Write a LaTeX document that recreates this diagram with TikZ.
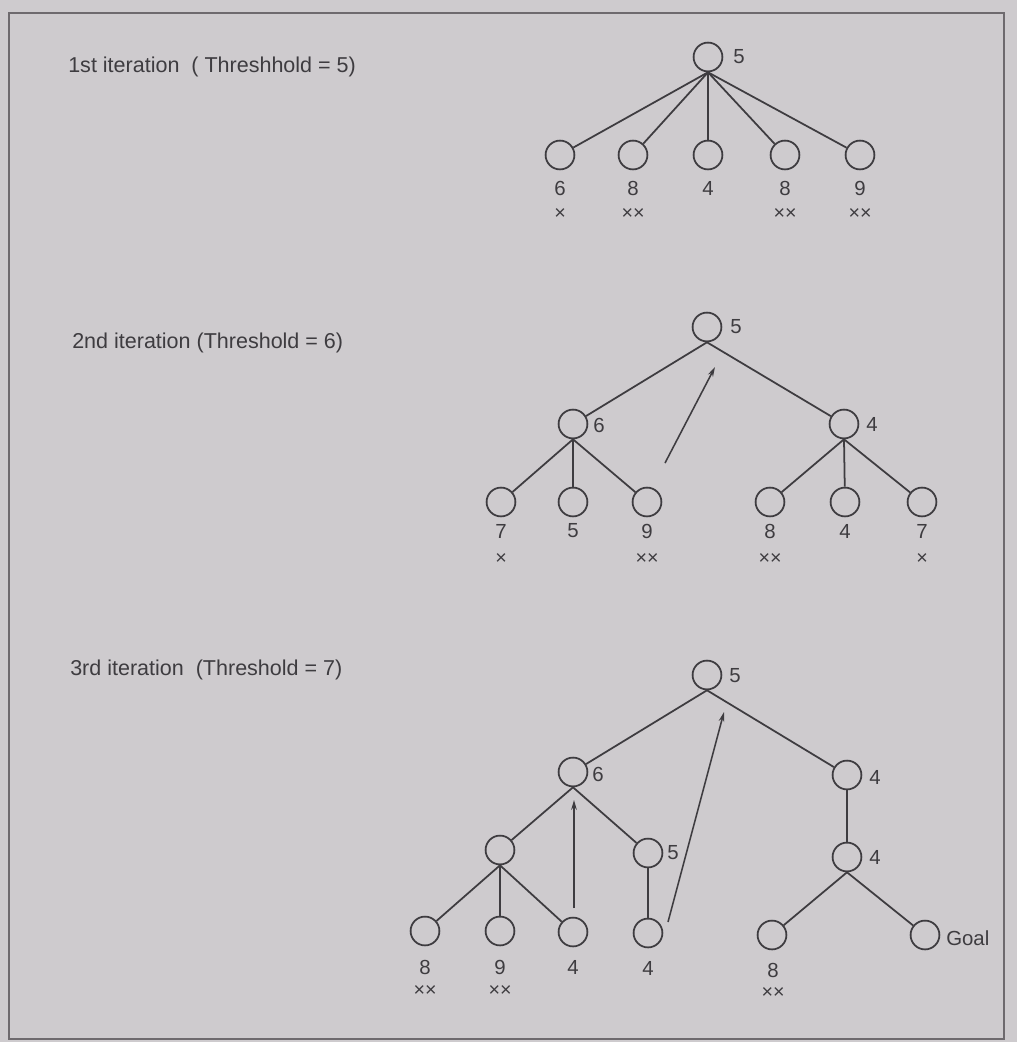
\documentclass[tikz,border=0pt]{standalone}
\usepackage{fontspec}
\setmainfont{Liberation Sans}
\usetikzlibrary{arrows.meta}
\definecolor{paper}{RGB}{206,203,206}
\definecolor{ink}{RGB}{62,60,64}
\definecolor{frame}{RGB}{110,106,110}
\tikzset{
  tn/.style={circle,draw=ink,line width=1.25pt,minimum size=0.72cm,inner sep=0pt},
  edge/.style={draw=ink,line width=1.25pt},
  up/.style={draw=ink,line width=1.1pt,-{Stealth[length=7pt,width=4pt]}},
  val/.style={text=ink,font=\fontsize{14.5}{16}\selectfont,inner sep=0pt},
  side/.style={text=ink,font=\fontsize{14.5}{16}\selectfont,inner sep=0pt,anchor=west},
  crossmark/.style={text=ink,font=\fontsize{14}{15}\selectfont,inner sep=0pt},
  title/.style={text=ink,font=\fontsize{15.3}{17}\selectfont,inner sep=0pt,anchor=west}
}
\begin{document}
\begin{tikzpicture}[x=0.025cm,y=-0.025cm]
\fill[paper] (0,0) rectangle (1017,1042);
\useasboundingbox (0,0) rectangle (1017,1042);
\draw[frame,line width=0.9pt] (9,13) rectangle (1004,1039);

% titles
\node[title] (t1) at (68,67) {1st iteration\ \ ( Threshhold = 5)};
\node[title] (t2) at (72,343) {2nd iteration (Threshold = 6)};
\node[title] (t3) at (70,670) {3rd iteration\ \ (Threshold = 7)};

% ---------- tree 1 ----------
\node[tn] (r1) at (708,57) {};
\node[side] (r1v) at (733,57) {5};
\node[tn] (a1) at (560,155) {};
\node[tn] (a2) at (633,155) {};
\node[tn] (a3) at (708,155) {};
\node[tn] (a4) at (785,155) {};
\node[tn] (a5) at (860,155) {};
\foreach \n in {a1,a2,a3,a4,a5} \draw[edge] (r1.south) -- (\n);
\node[val] (a1v) at (560,188) {6};
\node[val] (a2v) at (633,188) {8};
\node[val] (a3v) at (708,188) {4};
\node[val] (a4v) at (785,188) {8};
\node[val] (a5v) at (860,188) {9};
\node[crossmark] (a1x) at (560,214) {×};
\node[crossmark] (a2x) at (633,214) {××};
\node[crossmark] (a4x) at (785,214) {××};
\node[crossmark] (a5x) at (860,214) {××};

% ---------- tree 2 ----------
\node[tn] (r2) at (707,327) {};
\node[side] (r2v) at (730,327) {5};
\node[tn] (b1) at (573,424) {};
\node[side] (b1v) at (593,425) {6};
\node[tn] (b2) at (844,424) {};
\node[side] (b2v) at (866,424) {4};
\draw[edge] (r2.south) -- (b1);
\draw[edge] (r2.south) -- (b2);
\node[tn] (c1) at (501,502) {};
\node[tn] (c2) at (573,502) {};
\node[tn] (c3) at (647,502) {};
\node[tn] (c4) at (770,502) {};
\node[tn] (c5) at (845,502) {};
\node[tn] (c6) at (922,502) {};
\foreach \n in {c1,c2,c3} \draw[edge] (b1.south) -- (\n);
\foreach \n in {c4,c5,c6} \draw[edge] (b2.south) -- (\n);
\node[val] (c1v) at (501,531) {7};
\node[val] (c2v) at (573,531) {5};
\node[val] (c3v) at (647,531) {9};
\node[val] (c4v) at (770,531) {8};
\node[val] (c5v) at (845,531) {4};
\node[val] (c6v) at (922,531) {7};
\node[crossmark] (c1x) at (501,559) {×};
\node[crossmark] (c3x) at (647,559) {××};
\node[crossmark] (c4x) at (770,559) {××};
\node[crossmark] (c6x) at (922,559) {×};
\coordinate (p2a) at (665,463);
\coordinate (p2b) at (715,367);
\draw[up] (p2a) -- (p2b);

% ---------- tree 3 ----------
\node[tn] (r3) at (707,675) {};
\node[side] (r3v) at (729,676) {5};
\node[tn] (d1) at (573,772) {};
\node[side] (d1v) at (592,774) {6};
\node[tn] (d2) at (847,775) {};
\node[side] (d2v) at (869,777) {4};
\draw[edge] (r3.south) -- (d1);
\draw[edge] (r3.south) -- (d2);
\node[tn] (e1) at (500,850) {};
\node[tn] (e2) at (648,853) {};
\node[side] (e2v) at (667,853) {5};
\node[tn] (e3) at (847,857) {};
\node[side] (e3v) at (869,857) {4};
\draw[edge] (d1.south) -- (e1);
\draw[edge] (d1.south) -- (e2);
\draw[edge] (d2) -- (e3);
\node[tn] (f1) at (425,931) {};
\node[tn] (f2) at (500,931) {};
\node[tn] (f3) at (573,932) {};
\node[tn] (f4) at (648,933) {};
\node[tn] (f5) at (772,935) {};
\node[tn] (f6) at (925,935) {};
\foreach \n in {f1,f2,f3} \draw[edge] (e1.south) -- (\n);
\draw[edge] (e2) -- (f4);
\draw[edge] (e3.south) -- (f5);
\draw[edge] (e3.south) -- (f6);
\node[side] (goal) at (946,938) {Goal};
\node[val] (f1v) at (425,967) {8};
\node[val] (f2v) at (500,967) {9};
\node[val] (f3v) at (573,967) {4};
\node[val] (f4v) at (648,968) {4};
\node[val] (f5v) at (773,970) {8};
\node[crossmark] (f1x) at (425,991) {××};
\node[crossmark] (f2x) at (500,991) {××};
\node[crossmark] (f5x) at (773,993) {××};
\coordinate (p3a) at (574,908);
\coordinate (p3b) at (574,800);
\draw[up] (p3a) -- (p3b);
\coordinate (p3c) at (668,922);
\coordinate (p3d) at (724,712);
\draw[up] (p3c) -- (p3d);
\end{tikzpicture}
\end{document}
